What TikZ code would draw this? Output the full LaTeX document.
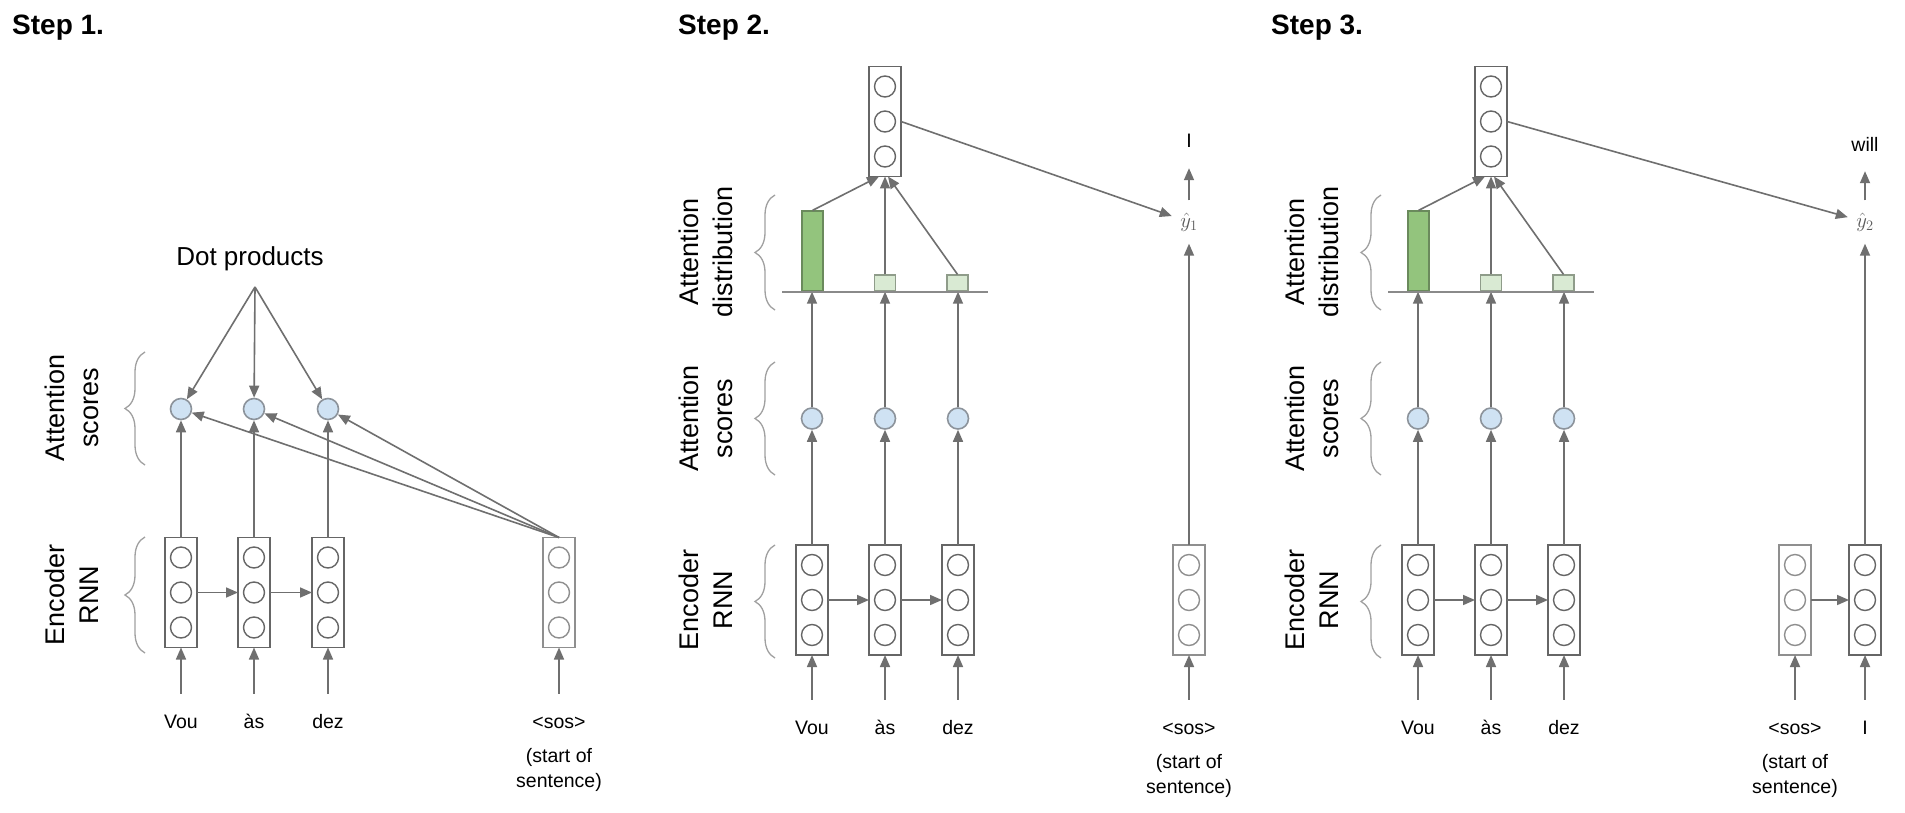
\documentclass[tikz,border=0pt]{standalone}
\usepackage{fontspec}
\setmainfont{Liberation Sans}
\usetikzlibrary{arrows.meta,decorations.pathreplacing}
\definecolor{ln}{HTML}{6F6F6F}
\definecolor{bx}{HTML}{666666}
\definecolor{bxl}{HTML}{8F8F8F}
\definecolor{scfill}{HTML}{CFE2F3}
\definecolor{scst}{HTML}{8C939B}
\definecolor{gfill}{HTML}{93C47D}
\definecolor{gst}{HTML}{6A8A5C}
\definecolor{sfill}{HTML}{D9EAD3}
\definecolor{sst}{HTML}{8F9C8A}
\definecolor{axc}{HTML}{8A8A8A}
\definecolor{brcol}{HTML}{A0A0A0}
\definecolor{yhc}{HTML}{5A5A5A}
\tikzset{
  arr/.style={draw=ln, line width=1.6pt, -{Triangle[length=12pt,width=10pt]}},
  rnnrect/.style={rectangle, draw=bx, line width=1.8pt, minimum width=32pt, minimum height=110pt, inner sep=0pt, outer sep=0pt},
  cell/.style={line width=1.4pt},
  score/.style={circle, draw=scst, fill=scfill, line width=1.6pt, minimum size=21pt, inner sep=0pt},
  gbar/.style={rectangle, draw=gst, fill=gfill, line width=1.6pt, minimum width=20.5pt, inner sep=0pt},
  sbar/.style={rectangle, draw=sst, fill=sfill, line width=1.6pt, minimum width=21pt, minimum height=15.7pt, inner sep=0pt},
  axisline/.style={draw=axc, line width=2pt},
  brc/.style={draw=brcol, line width=1.3pt, decorate, decoration={brace, amplitude=20pt, aspect=0.5}},
  side/.style={align=center, rotate=90, font=\fontsize{27}{34}\selectfont, inner sep=0pt},
  lbl/.style={font=\fontsize{19.5}{25}\selectfont, inner xsep=0pt, inner ysep=20pt, text height=14pt, text depth=0pt},
  lbltwo/.style={font=\fontsize{19.5}{25}\selectfont, align=center, inner sep=0pt},
  hdr/.style={font=\bfseries\fontsize{28}{34}\selectfont, inner sep=0pt},
  yh/.style={text=yhc, font=\fontsize{20.74}{25}\selectfont, minimum width=34pt, minimum height=43pt, inner sep=0pt},
  dotlbl/.style={font=\fontsize{26}{30}\selectfont, inner sep=0pt},
}
\newcommand{\rnnbox}[4][bx]{%
  \node[rnnrect, draw=#1] (#2) at (#3,#4) {};%
  \foreach \dy in {-35,0,35}{\draw[cell, draw=#1] (#3,#4+\dy) circle[radius=10.5];}%
}
\newcommand{\attnstep}[2]{%
  % encoder
  \rnnbox{#1e1}{812+#2}{600}
  \rnnbox{#1e2}{885+#2}{600}
  \rnnbox{#1e3}{958+#2}{600}
  \rnnbox[bxl]{#1sos}{1189+#2}{600}
  \draw[arr] (#1e1.east) -- (#1e2.west);
  \draw[arr] (#1e2.east) -- (#1e3.west);
  % input words
  \node[lbl, anchor=base] (#1w1) at (812+#2,734) {Vou};
  \node[lbl, anchor=base] (#1w2) at (885+#2,734) {às};
  \node[lbl, anchor=base] (#1w3) at (958+#2,734) {dez};
  \node[lbl, anchor=base] (#1ws) at (1189+#2,734) {<sos>};
  \node[lbltwo, anchor=north] (#1wst) at (1189+#2,754) {(start of\\sentence)};
  \draw[arr] (#1w1) -- (#1e1);
  \draw[arr] (#1w2) -- (#1e2);
  \draw[arr] (#1w3) -- (#1e3);
  \draw[arr] (#1ws) -- (#1sos);
  % scores
  \node[score] (#1s1) at (812+#2,418.5) {};
  \node[score] (#1s2) at (885+#2,418.5) {};
  \node[score] (#1s3) at (958+#2,418.5) {};
  \draw[arr] (#1e1) -- (#1s1);
  \draw[arr] (#1e2) -- (#1s2);
  \draw[arr] (#1e3) -- (#1s3);
  % distribution
  \coordinate (#1b1) at (812+#2,291.7);
  \coordinate (#1b2) at (885+#2,291.7);
  \coordinate (#1b3) at (958+#2,291.7);
  \draw[arr] (#1s1) -- (#1b1);
  \draw[arr] (#1s2) -- (#1b2);
  \draw[arr] (#1s3) -- (#1b3);
  \node[gbar, anchor=south, minimum height=79.7pt] (#1g1) at (812.5+#2,291.7) {};
  \node[sbar, anchor=south] (#1g2) at (885+#2,291.7) {};
  \node[sbar, anchor=south] (#1g3) at (957.5+#2,291.7) {};
  \coordinate (#1bl) at (782+#2,291.7);
  \coordinate (#1br) at (988+#2,291.7);
  \draw[axisline] (#1bl) -- (#1br);
  % attention output
  \rnnbox{#1t}{885+#2}{121.5}
  \draw[arr] (#1g1.north) -- ([xshift=-6pt]#1t.south);
  \draw[arr] (#1g2.north) -- (#1t.south);
  \draw[arr] (#1g3.north) -- ([xshift=3pt]#1t.south);
  % braces and side labels
  \coordinate (#1k1a) at (775+#2,310); \coordinate (#1k1b) at (775+#2,195);
  \coordinate (#1k2a) at (775+#2,475); \coordinate (#1k2b) at (775+#2,362);
  \coordinate (#1k3a) at (775+#2,658); \coordinate (#1k3b) at (775+#2,545);
  \draw[brc] (#1k1a) -- (#1k1b);
  \draw[brc] (#1k2a) -- (#1k2b);
  \draw[brc] (#1k3a) -- (#1k3b);
  \node[side] (#1L1) at (706+#2,252) {Attention\\distribution};
  \node[side] (#1L2) at (706+#2,418.5) {Attention\\scores};
  \node[side] (#1L3) at (706+#2,600) {Encoder\\RNN};
}
\begin{document}
\begin{tikzpicture}[x=1pt,y=-1pt]
\fill[white] (0,0) rectangle (1905,813);
\useasboundingbox (0,0) rectangle (1905,813);

% ---------------- Step 1 ----------------
\node[hdr, anchor=base west] (h1) at (12,35) {Step 1.};
\rnnbox{a1}{181}{592.5}
\rnnbox{a2}{254}{592.5}
\rnnbox{a3}{328}{592.5}
\rnnbox[bxl]{asos}{559}{592.5}
\draw[arr] (a1.east) -- (a2.west);
\draw[arr] (a2.east) -- (a3.west);
\node[lbl, anchor=base] (aw1) at (181,728) {Vou};
\node[lbl, anchor=base] (aw2) at (254,728) {às};
\node[lbl, anchor=base] (aw3) at (328,728) {dez};
\node[lbl, anchor=base] (aws) at (559,728) {<sos>};
\node[lbltwo, anchor=north] (awst) at (559,748.5) {(start of\\sentence)};
\draw[arr] (aw1) -- (a1);
\draw[arr] (aw2) -- (a2);
\draw[arr] (aw3) -- (a3);
\draw[arr] (aws) -- (asos);
\node[score] (as1) at (181,409) {};
\node[score] (as2) at (254,409) {};
\node[score] (as3) at (328,409) {};
\draw[arr] (a1) -- (as1);
\draw[arr] (a2) -- (as2);
\draw[arr] (a3) -- (as3);
\draw[arr] (asos.north) -- (as1);
\draw[arr] (asos.north) -- (as2);
\draw[arr] (asos.north) -- (as3);
\node[dotlbl, anchor=base] (adp) at (250,265) {Dot products};
\coordinate (afan) at (255,287);
\draw[arr] (afan) -- (as1);
\draw[arr] (afan) -- (as2);
\draw[arr] (afan) -- (as3);
\coordinate (ak2a) at (145,465); \coordinate (ak2b) at (145,352);
\coordinate (ak3a) at (145,653); \coordinate (ak3b) at (145,537);
\draw[brc] (ak2a) -- (ak2b);
\draw[brc] (ak3a) -- (ak3b);
\node[side] (aL2) at (72,408) {Attention\\scores};
\node[side] (aL3) at (72,595) {Encoder\\RNN};

% ---------------- Step 2 ----------------
\node[hdr, anchor=base west] (h2) at (678,35) {Step 2.};
\attnstep{b}{0}
\node[yh] (byh) at (1189,222) {$\hat{y}_1$};
\node[lbl, anchor=base] (bout) at (1189,148) {I};
\draw[arr] (bsos) -- (byh);
\draw[arr] (byh) -- (bout);
\draw[arr] (bt.east) -- (byh);

% ---------------- Step 3 ----------------
\node[hdr, anchor=base west] (h3) at (1271,35) {Step 3.};
\attnstep{c}{606}
\rnnbox{cI}{1865}{600}
\draw[arr] (csos.east) -- (cI.west);
\node[lbl, anchor=base] (cwI) at (1865,734) {I};
\draw[arr] (cwI) -- (cI);
\node[yh] (cyh) at (1865,222) {$\hat{y}_2$};
\node[lbl, anchor=base, inner ysep=19pt] (cout) at (1865,152) {will};
\draw[arr] (cI) -- (cyh);
\draw[arr] (cyh) -- (cout);
\draw[arr] (ct.east) -- (cyh);
\end{tikzpicture}
\end{document}
